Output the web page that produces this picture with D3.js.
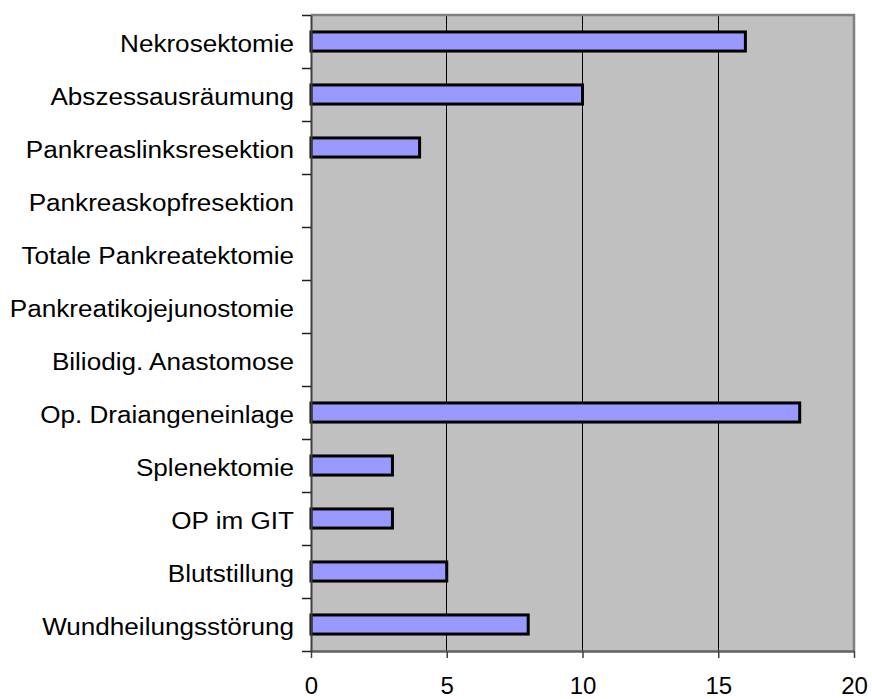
<!DOCTYPE html>
<html>
<head>
<meta charset="utf-8">
<script src="https://cdn.jsdelivr.net/npm/d3@7"></script>
<style>
  html, body { margin: 0; padding: 0; background: #ffffff; }
  svg { display: block; font-family: "Liberation Sans", Arial, sans-serif; }
</style>
</head>
<body>
<svg id="chart" width="872" height="699"></svg>
<script>
// Surgical interventions and their counts
const categories = [
  "Nekrosektomie",
  "Abszessausräumung",
  "Pankreaslinksresektion",
  "Pankreaskopfresektion",
  "Totale Pankreatektomie",
  "Pankreatikojejunostomie",
  "Biliodig. Anastomose",
  "Op. Draiangeneinlage",
  "Splenektomie",
  "OP im GIT",
  "Blutstillung",
  "Wundheilungsstörung"
];
const counts = [16, 10, 4, 0, 0, 0, 0, 18, 3, 3, 5, 8];
const xTicks = [0, 5, 10, 15, 20];

const svg = d3.select("#chart");
const plot = { left: 311, right: 854, top: 15, bottom: 651 };

const x = d3.scaleLinear().domain([0, 20]).range([plot.left, plot.right]);
const y = d3.scaleBand()
  .domain(categories)
  .range([plot.top, plot.bottom])
  .paddingInner(0.64)
  .paddingOuter(0.32);
// boundaries between categories, used for the tick marks on the category axis
const yEdge = d3.scaleLinear().domain([0, categories.length]).range([plot.top, plot.bottom]);

// plot background
svg.append("rect")
  .attr("x", plot.left).attr("y", plot.top)
  .attr("width", plot.right - plot.left)
  .attr("height", plot.bottom - plot.top)
  .attr("fill", "#c0c0c0");

// vertical grid lines
svg.append("g")
  .selectAll("line")
  .data(xTicks.filter(d => d > 0 && d < 20))
  .join("line")
  .attr("x1", d => x(d)).attr("x2", d => x(d))
  .attr("y1", plot.top).attr("y2", plot.bottom)
  .attr("stroke", "#000").attr("stroke-width", 1)
  .attr("shape-rendering", "crispEdges");

// top and right frame
svg.append("path")
  .attr("d", `M${plot.left},${plot.top}H${plot.right}V${plot.bottom}`)
  .attr("fill", "none")
  .attr("stroke", "#808080")
  .attr("stroke-width", 2.5);

// bars
svg.append("g")
  .selectAll("rect")
  .data(categories.map((c, i) => ({ c, v: counts[i] })).filter(d => d.v > 0))
  .join("rect")
  .attr("x", x(0))
  .attr("y", d => y(d.c))
  .attr("width", d => x(d.v) - x(0))
  .attr("height", y.bandwidth())
  .attr("fill", "#9999ff")
  .attr("stroke", "#000")
  .attr("stroke-width", 3);

// x axis
const xAxis = svg.append("g")
  .attr("transform", `translate(0,${plot.bottom})`)
  .call(d3.axisBottom(x).tickValues(xTicks).tickSize(7).tickPadding(19).tickSizeOuter(0));
xAxis.select(".domain").attr("stroke", "#606060").attr("stroke-width", 2.5);
xAxis.selectAll(".tick line").attr("stroke", "#404040").attr("stroke-width", 1.5);
xAxis.selectAll(".tick text")
  .attr("font-size", 24)
  .attr("font-family", "'Liberation Sans', Arial, sans-serif")
  .attr("fill", "#000");

// category axis: tick marks between categories
const yAxis = svg.append("g")
  .attr("transform", `translate(${plot.left},0)`)
  .call(d3.axisLeft(yEdge).tickValues(d3.range(categories.length + 1)).tickFormat("").tickSize(9).tickSizeOuter(0));
yAxis.select(".domain").attr("stroke", "#404040").attr("stroke-width", 2);
yAxis.selectAll(".tick line").attr("stroke", "#202020").attr("stroke-width", 1.5);

// category labels (slightly widened glyphs)
svg.append("g")
  .selectAll("text")
  .data(categories)
  .join("text")
  .attr("transform", d => `translate(294,${y(d) + y.bandwidth() / 2 + 2}) scale(1.065,1)`)
  .attr("dy", "0.36em")
  .attr("text-anchor", "end")
  .attr("font-size", 24.5)
  .attr("fill", "#000")
  .text(d => d);
</script>
</body>
</html>
